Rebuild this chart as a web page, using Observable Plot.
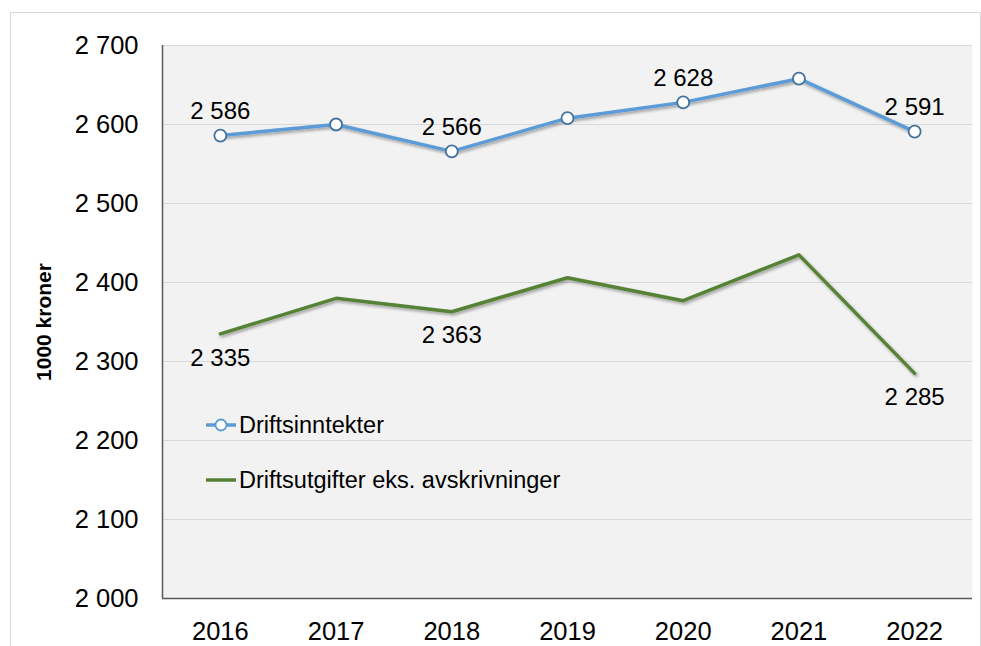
<!DOCTYPE html>
<html><head><meta charset="utf-8">
<script src="https://cdn.jsdelivr.net/npm/d3@7"></script>
<script src="https://cdn.jsdelivr.net/npm/@observablehq/plot@0.6"></script>
<style>
html,body{margin:0;padding:0;background:#fff;overflow:hidden;}
#wrap{position:relative;width:981px;height:646px;font-family:"Liberation Sans",Arial,sans-serif;}
#frame{position:absolute;left:10px;top:12px;right:0;bottom:-20px;border:1px solid #d9d9d9;pointer-events:none;}
#legend{position:absolute;left:205px;top:410px;font-size:23.5px;color:#000;}
.li{display:flex;align-items:center;height:30px;margin-bottom:25px;}
.li svg{margin-right:2px;}
</style></head>
<body><div id="wrap"><div id="frame"></div><div id="chart"></div>
<div id="legend">
<div class="li"><svg width="32" height="20"><line x1="1" y1="10" x2="31" y2="10" stroke="#5b9bd5" stroke-width="3.5"/><circle cx="16" cy="10" r="5.5" fill="#fff" stroke="#5b9bd5" stroke-width="1.8"/></svg>Driftsinntekter</div>
<div class="li"><svg width="32" height="20"><line x1="1" y1="10" x2="31" y2="10" stroke="#548235" stroke-width="3.5"/></svg>Driftsutgifter eks. avskrivninger</div>
</div></div>
<script>
const years = [2016, 2017, 2018, 2019, 2020, 2021, 2022];
const inntekter = [2586, 2600, 2566, 2608, 2628, 2658, 2591];
const utgifter = [2335, 2380, 2363, 2406, 2377, 2435, 2285];
const inntekterLabelYears = [2016, 2018, 2020, 2022];
const utgifterLabelYears = [2016, 2018, 2022];
const yTicks = [2000, 2100, 2200, 2300, 2400, 2500, 2600, 2700];

const fmt = v => d3.format(",")(v).replace(/,/g, " ");
const inn = years.map((y, i) => ({year: y, value: inntekter[i]}));
const utg = years.map((y, i) => ({year: y, value: utgifter[i]}));

const chart = Plot.plot({
  width: 981, height: 646,
  marginLeft: 162, marginRight: 9, marginTop: 45, marginBottom: 48,
  style: {fontFamily: "'Liberation Sans', Arial, sans-serif", background: "transparent", overflow: "visible"},
  x: {domain: [2015.5, 2022.5]},
  y: {domain: [2000, 2700]},
  marks: [
    Plot.frame({fill: "#f2f2f2", stroke: null}),
    Plot.gridY(yTicks.filter(t => t > 2000), {stroke: "#d9d9d9", strokeOpacity: 1, strokeWidth: 1.2}),
    Plot.ruleY([2000], {stroke: "#595959", strokeWidth: 1.5}),
    Plot.ruleX([2015.5], {stroke: "#595959", strokeWidth: 1.5}),
    Plot.axisY({ticks: yTicks, tickSize: 0, tickPadding: 24, tickFormat: fmt, fontSize: 25.5, label: null}),
    Plot.axisY({ticks: [], tickSize: 0, label: "1000 kroner", labelAnchor: "center", labelArrow: "none", labelOffset: 126, fontSize: 21, fontWeight: "bold"}),
    Plot.axisX({ticks: years, tickSize: 0, tickPadding: 23, tickFormat: d => String(d), fontSize: 25.5, label: null}),
    Plot.line(utg, {x: "year", y: "value", stroke: "#548235", strokeWidth: 3.5}),
    Plot.line(inn, {x: "year", y: "value", stroke: "#5b9bd5", strokeWidth: 3.5}),
    Plot.dot(inn, {x: "year", y: "value", r: 6, fill: "#fff", stroke: "#41719c", strokeWidth: 1.8}),
    Plot.text(inn.filter(d => inntekterLabelYears.includes(d.year)), {x: "year", y: "value", text: d => fmt(d.value), dy: -24, fontSize: 24, fill: "#000"}),
    Plot.text(utg.filter(d => utgifterLabelYears.includes(d.year)), {x: "year", y: "value", text: d => fmt(d.value), dy: 24, fontSize: 24, fill: "#000"})
  ]
});
document.getElementById("chart").appendChild(chart);

// drop shadow on lines
const svg = d3.select(chart);
const defs = svg.insert("defs", ":first-child");
const f = defs.append("filter").attr("id", "sh").attr("x", "-10%").attr("y", "-10%").attr("width", "120%").attr("height", "130%");
f.append("feDropShadow").attr("dx", 1.5).attr("dy", 2).attr("stdDeviation", 1.5).attr("flood-color", "#000").attr("flood-opacity", 0.35);
svg.selectAll('g[aria-label="line"]').attr("filter", "url(#sh)");
</script>
</body></html>
